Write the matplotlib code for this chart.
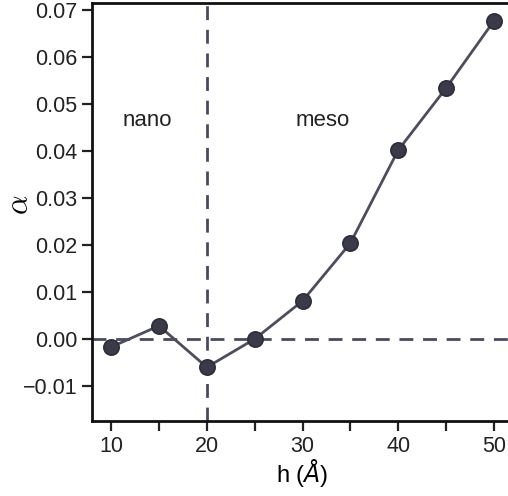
import matplotlib
matplotlib.use("Agg")
import matplotlib.pyplot as plt

h = [10, 15, 20, 25, 30, 35, 40, 45, 50]
alpha = [-0.0017, 0.0028, -0.0060, 0.0000, 0.0081, 0.0204, 0.0402, 0.0534, 0.0677]
yticks = [-0.01, 0.00, 0.01, 0.02, 0.03, 0.04, 0.05, 0.06, 0.07]
xticks = [10, 20, 30, 40, 50]
xminor = [15, 25, 35, 45]

plt.rcParams['font.family'] = ['Liberation Sans', 'DejaVu Sans']
plt.rcParams['mathtext.fontset'] = 'cm'

fig = plt.figure(figsize=(5.08, 4.96), dpi=100)
ax = fig.add_axes([92/508, 1 - 421/496, (508 - 92)/508 + 0.01, (421 - 3)/496])

ax.axvline(20, color='#4a4a5c', ls='--', lw=2, dashes=(5, 3.5), zorder=1)
ax.axhline(0, color='#4a4a5c', ls='--', lw=2, dashes=(5, 3.5), zorder=1)
ax.plot(h, alpha, '-o', color='#4d4d5c', lw=2, ms=11, mfc='#3a3a48', mec='#2e2e3a', mew=1.2, zorder=3)

ax.text(13.8, 0.0466, 'nano', fontsize=16, ha='center', va='center', color='#222222')
ax.text(32.1, 0.0466, 'meso', fontsize=16, ha='center', va='center', color='#222222')

ax.set_xlim(8.0, 52.0)
ax.set_ylim(-0.01745, 0.0715)
ax.set_xticks(xticks)
ax.set_xticks(xminor, minor=True)
ax.set_yticks(yticks)
ax.set_yticklabels([f'{v:.2f}'.replace('-', '\u2212') for v in yticks])
ax.tick_params(axis='both', which='both', direction='out', length=7, width=1.6, labelsize=15.5, colors='#222222')
for s in ['left', 'bottom', 'top']:
    ax.spines[s].set_linewidth(2)
    ax.spines[s].set_color('#111111')
ax.spines['right'].set_visible(False)

yl = ax.set_ylabel(r'$\alpha$', fontsize=22)
ax.yaxis.set_label_coords(-0.135, 0.517)
xl = ax.set_xlabel(r'h ($\AA$)', fontsize=17, labelpad=0, math_fontfamily='dejavusans')

fig.savefig('out.png', dpi=100)
